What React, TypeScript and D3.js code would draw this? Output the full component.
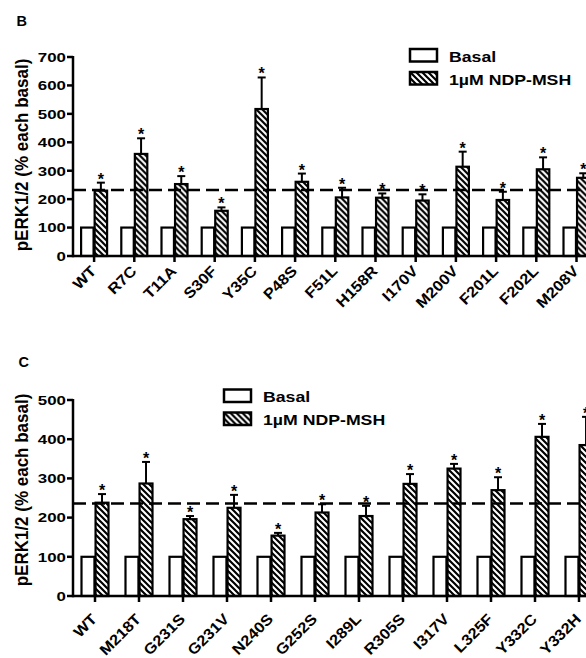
import React from "react";
import { scaleBand, scaleLinear } from "d3";

const width = 586;
const height = 658;

// panel B
const catsB = ["WT", "R7C", "T11A", "S30F", "Y35C", "P48S", "F51L", "H158R", "I170V", "M200V", "F201L", "F202L", "M208V"];
const basalB = [100, 100, 100, 100, 100, 100, 100, 100, 100, 100, 100, 100, 100];
const ndpB = [230, 359, 253, 159, 517, 261, 206, 205, 195, 314, 197, 305, 275];
const semB = [28, 55, 28, 12, 111, 29, 34, 15, 22, 53, 29, 42, 16];
const refB = 232;
const ticksB = [0, 100, 200, 300, 400, 500, 600, 700];

// panel C
const catsC = ["WT", "M218T", "G231S", "G231V", "N240S", "G252S", "I289L", "R305S", "I317V", "L325F", "Y332C", "Y332H"];
const basalC = [100, 100, 100, 100, 100, 100, 100, 100, 100, 100, 100, 100];
const ndpC = [238, 287, 196, 225, 154, 213, 204, 286, 325, 270, 406, 385];
const semC = [22, 55, 8, 33, 7, 21, 26, 25, 12, 33, 33, 72];
const refC = 236;
const ticksC = [0, 100, 200, 300, 400, 500];

const seriesNames = ["Basal", "1µM NDP-MSH"];

const font = "'Liberation Sans', Arial, sans-serif";

type PanelProps = {
  letter: string;
  letterPos: [number, number];
  cats: string[];
  basal: number[];
  ndp: number[];
  sem: number[];
  refValue: number;
  ticks: number[];
  yRange: [number, number];
  xStart: number;
  step: number;
  halfWidth: number;
  labelGap: number;
  legendPos: [number, number];
  yLabelY: number;
};

const Panel = (p: PanelProps) => {
  const axisX = 73;
  const y = scaleLinear()
    .domain([0, p.ticks[p.ticks.length - 1]])
    .range(p.yRange);
  const x0 = scaleBand()
    .domain(p.cats)
    .range([p.xStart, p.xStart + p.cats.length * p.step]);
  const x1 = scaleBand()
    .domain(["basal", "ndp"])
    .range([-p.halfWidth, p.halfWidth])
    .paddingInner(0.08);
  const center = (c: string) => (x0(c) as number) + x0.bandwidth() / 2;
  const base = y(0);
  const ndpMid = (x1("ndp") as number) + x1.bandwidth() / 2;

  return (
    <g>
      <text
        x={p.letterPos[0]}
        y={p.letterPos[1]}
        fontSize={14.5}
        fontWeight="bold"
        fontFamily={font}
      >
        {p.letter}
      </text>

      <text
        transform={`translate(27.5,${p.yLabelY}) scale(1.1,1) rotate(-90)`}
        textAnchor="middle"
        fontSize={17}
        fontWeight="bold"
        fontFamily={font}
      >
        pERK1/2 (% each basal)
      </text>

      {/* bars */}
      {p.cats.map((c, i) => (
        <g key={c} transform={`translate(${center(c)},0)`}>
          <rect
            x={x1("basal") as number}
            y={y(p.basal[i])}
            width={x1.bandwidth()}
            height={base - y(p.basal[i])}
            fill="white"
            stroke="black"
            strokeWidth={2.2}
          />
          <rect
            x={x1("ndp") as number}
            y={y(p.ndp[i])}
            width={x1.bandwidth()}
            height={base - y(p.ndp[i])}
            fill="url(#hatch)"
            stroke="black"
            strokeWidth={2.2}
          />
          <line
            x1={ndpMid}
            x2={ndpMid}
            y1={y(p.ndp[i])}
            y2={y(p.ndp[i] + p.sem[i])}
            stroke="black"
            strokeWidth={2}
          />
          <line
            x1={ndpMid - 4}
            x2={ndpMid + 4}
            y1={y(p.ndp[i] + p.sem[i])}
            y2={y(p.ndp[i] + p.sem[i])}
            stroke="black"
            strokeWidth={2}
          />
          <text
            x={ndpMid}
            y={y(p.ndp[i] + p.sem[i]) + 2}
            textAnchor="middle"
            fontSize={16}
            fontWeight="bold"
            fontFamily={font}
          >
            *
          </text>
          {/* x tick */}
          <line y1={base} y2={base + 6} stroke="black" strokeWidth={2.5} />
          <text
            transform={`translate(3,${base + p.labelGap}) rotate(-45) scale(1.1,1)`}
            textAnchor="end"
            fontSize={15}
            fontWeight="bold"
            fontFamily={font}
          >
            {c}
          </text>
        </g>
      ))}

      {/* reference line */}
      <line
        x1={axisX}
        x2={width}
        y1={y(p.refValue)}
        y2={y(p.refValue)}
        stroke="black"
        strokeWidth={2.5}
        strokeDasharray="13,6"
      />

      {/* axes */}
      <line x1={axisX} x2={width} y1={base} y2={base} stroke="black" strokeWidth={2.5} />
      <line x1={axisX} x2={axisX} y1={base + 1.25} y2={y(p.ticks[p.ticks.length - 1]) - 1} stroke="black" strokeWidth={2.5} />
      {p.ticks.map((t) => (
        <g key={t} transform={`translate(0,${y(t)})`}>
          <line x1={axisX - 6} x2={axisX} stroke="black" strokeWidth={2.5} />
          <text
            transform={`translate(${axisX - 7},4.8) scale(1.25,1)`}
            textAnchor="end"
            fontSize={13.5}
            fontWeight="bold"
            fontFamily={font}
          >
            {t}
          </text>
        </g>
      ))}

      {/* legend */}
      {seriesNames.map((s, i) => (
        <g key={s} transform={`translate(${p.legendPos[0]},${p.legendPos[1] + i * 23})`}>
          <rect
            x={0}
            y={0}
            width={27}
            height={12.5}
            fill={i === 0 ? "white" : "url(#hatch)"}
            stroke="black"
            strokeWidth={2.5}
          />
          <text
            transform={`translate(39,12.8) scale(1.18,1)`}
            fontSize={15}
            fontWeight="bold"
            fontFamily={font}
          >
            {s}
          </text>
        </g>
      ))}
    </g>
  );
};

export default function App() {
  return (
    <svg width={width} height={height} style={{ display: "block", position: "absolute", left: 0, top: 0, background: "white" }}>
      <defs>
        <pattern id="hatch" width={6} height={6} patternUnits="userSpaceOnUse">
          <rect width={6} height={6} fill="white" />
          <path d="M-1,-1 L7,7 M-1,5 L1,7 M5,-1 L7,1" stroke="black" strokeWidth={2.2} />
        </pattern>
      </defs>
      <Panel
        letter="B"
        letterPos={[16.5, 26]}
        cats={catsB}
        basal={basalB}
        ndp={ndpB}
        sem={semB}
        refValue={refB}
        ticks={ticksB}
        yRange={[256, 57]}
        xStart={74}
        step={40.2}
        halfWidth={13}
        labelGap={16}
        legendPos={[410, 49]}
        yLabelY={155}
      />
      <Panel
        letter="C"
        letterPos={[18.5, 367]}
        cats={catsC}
        basal={basalC}
        ndp={ndpC}
        sem={semC}
        refValue={refC}
        ticks={ticksC}
        yRange={[596, 400]}
        xStart={73}
        step={44}
        halfWidth={13.5}
        labelGap={24}
        legendPos={[224, 389.5]}
        yLabelY={490}
      />
    </svg>
  );
}
